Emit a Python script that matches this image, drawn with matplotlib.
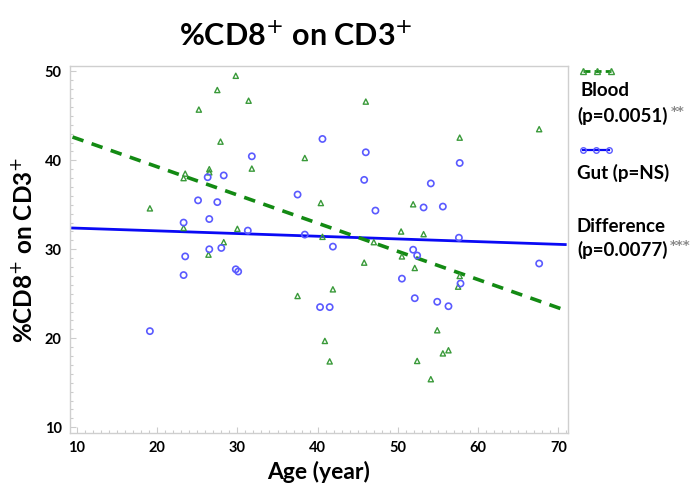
import matplotlib
matplotlib.use("Agg")
import matplotlib.pyplot as plt
from matplotlib.lines import Line2D
from matplotlib.ticker import MultipleLocator

# ---- data ----
blood_age = [29.8, 27.5, 25.2, 31.4, 46.0, 27.9, 67.6, 57.7, 38.4, 31.8,
             26.5, 26.5, 23.5, 23.3, 19.1, 40.4, 51.9, 23.3, 30.0, 50.4,
             53.2, 40.6, 28.3, 47.0, 26.4, 50.5, 45.8, 52.1, 57.7, 57.5,
             41.9, 37.5, 54.9, 40.9, 56.3, 55.6, 52.4, 41.5, 54.1]
blood_cd8 = [49.5, 47.9, 45.7, 46.7, 46.6, 42.1, 43.5, 42.55, 40.26, 39.07,
             39.0, 38.65, 38.5, 38.0, 34.6, 35.2, 35.06, 32.4, 32.3, 32.0,
             31.7, 31.4, 30.8, 30.8, 29.4, 29.2, 28.5, 27.9, 27.0, 25.8,
             25.5, 24.75, 20.9, 19.7, 18.65, 18.3, 17.45, 17.4, 15.4]

gut_age = [40.6, 46.0, 31.8, 57.7, 28.3, 26.3, 45.8, 54.1, 37.5, 25.1,
           27.5, 55.6, 53.2, 47.2, 26.5, 23.3, 31.3, 38.4, 57.6, 41.9,
           28.0, 26.5, 51.9, 52.4, 23.5, 67.6, 29.8, 30.1, 23.3, 50.5,
           57.8, 52.1, 54.9, 56.3, 40.3, 41.5, 19.1]
gut_cd8 = [42.4, 40.9, 40.45, 39.7, 38.3, 38.1, 37.8, 37.4, 36.15, 35.5,
           35.3, 34.8, 34.7, 34.35, 33.4, 33.0, 32.1, 31.65, 31.3, 30.3,
           30.15, 30.0, 29.95, 29.3, 29.2, 28.4, 27.75, 27.5, 27.1, 26.7,
           26.15, 24.5, 24.1, 23.6, 23.5, 23.5, 20.8]

fit_age = [9.46, 70.85]
blood_fit = [42.62, 23.15]
gut_fit = [32.39, 30.53]

x_ticks = [10, 20, 30, 40, 50, 60, 70]
y_ticks = [10, 20, 30, 40, 50]

FONT = ["Lato", "DejaVu Sans"]
plt.rcParams['font.family'] = FONT

GREEN = "#3a9a3a"
BLUE = "#5a5aff"

fig = plt.figure(figsize=(6.92, 4.91), dpi=100)
ax = fig.add_axes([0.1012, 0.1181, 0.7197, 0.7475])

ax.plot(fit_age, gut_fit, color="#0a0af5", lw=2.0, zorder=2)
ax.plot(fit_age, blood_fit, color="#138a13", lw=2.6, dashes=(3.2, 2.4), zorder=3)

ax.scatter(blood_age, blood_cd8, marker="^", s=14, facecolors="none",
           edgecolors=GREEN, linewidths=1.0, zorder=4)
ax.scatter(gut_age, gut_cd8, marker="o", s=20, facecolors="none",
           edgecolors=BLUE, linewidths=1.2, zorder=4)

ax.set_xlim(9.15, 71.2)
ax.set_ylim(9.35, 50.6)
ax.set_xticks(x_ticks)
ax.set_yticks(y_ticks)
ax.xaxis.set_minor_locator(MultipleLocator(1))
ax.yaxis.set_minor_locator(MultipleLocator(1))
ax.tick_params(which="both", direction="in", color="#cccccc", width=0.8)
ax.tick_params(which="major", length=4)
ax.tick_params(which="minor", length=2.5)
ax.tick_params(axis="both", labelsize=10.5, pad=6)
for lab in ax.get_xticklabels() + ax.get_yticklabels():
    lab.set_fontweight("bold")
for sp in ax.spines.values():
    sp.set_color("#cfcfcf")
    sp.set_linewidth(1.0)

ax.set_xlabel("Age (year)", fontsize=16.5, fontweight="bold", labelpad=4)
ax.set_ylabel("%CD8$^{+}$ on CD3$^{+}$", fontsize=17.5, fontweight="bold", labelpad=6)

fig.text(0.428, 0.925, "%CD8$^{+}$ on CD3$^{+}$", fontsize=22, fontweight="bold",
         ha="center", va="center")

# ---- legend (manual) ----
def fx(px):
    return px / 692.0

def fy(py):
    return 1 - py / 491.0

leg1 = Line2D([fx(583), fx(611)], [fy(71), fy(71)], transform=fig.transFigure,
              color="#138a13", lw=2.0, dashes=(2.5, 1.5), marker="^", markersize=4,
              markerfacecolor="none", markeredgecolor=GREEN, markevery=[0, 1])
fig.add_artist(leg1)
fig.add_artist(Line2D([fx(597)], [fy(71)], transform=fig.transFigure, marker="^",
                      markersize=4, markerfacecolor="none", markeredgecolor=GREEN, lw=0))
leg2 = Line2D([fx(583), fx(609)], [fy(150), fy(150)], transform=fig.transFigure,
              color="#0a0af5", lw=1.6, marker="o", markersize=4,
              markerfacecolor="none", markeredgecolor=BLUE)
fig.add_artist(leg2)
fig.add_artist(Line2D([fx(596)], [fy(150)], transform=fig.transFigure, marker="o",
                      markersize=4, markerfacecolor="none", markeredgecolor=BLUE, lw=0))

tkw = dict(fontsize=13.5, fontweight="bold", ha="left", va="center")
fig.text(fx(580), fy(90), "Blood", **tkw)
fig.text(fx(577), fy(116), "(p=0.0051)", **tkw)
fig.text(fx(577), fy(173), "Gut (p=NS)", **tkw)
fig.text(fx(577), fy(226), "Difference", **tkw)
fig.text(fx(577), fy(250), "(p=0.0077)", **tkw)
skw = dict(fontsize=9.5, fontweight="bold", color="#8a8a8a", ha="left", va="center",
           family="DejaVu Sans")
fig.text(fx(671), fy(111), "**", **skw)
fig.text(fx(670), fy(245), "***", **skw)

fig.savefig("out.png", dpi=100)
